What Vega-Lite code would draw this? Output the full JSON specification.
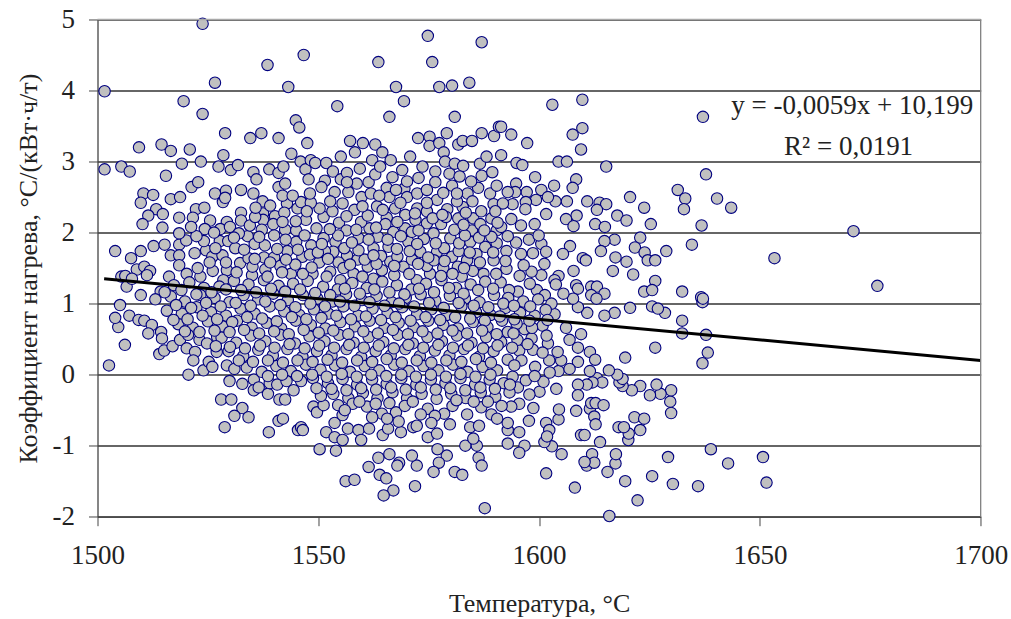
{"$schema":"https://vega.github.io/schema/vega-lite/v6.json","width":883.2,"height":497.2,"autosize":"none","padding":{"left":97.5,"top":19.5,"right":30,"bottom":102},"background":"white",
"config":{"view":{"stroke":null},"font":"Liberation Serif"},
"datasets":{"pts":[
{"t":1523.8,"k":4.94},{"t":1501.6,"k":3.99},{"t":1519.5,"k":3.85},{"t":1523.8,"k":3.67},{"t":1526.6,"k":4.11},{"t":1538.5,"k":4.36},{"t":1546.7,"k":4.5},{"t":1543.2,"k":4.05},{"t":1563.6,"k":4.4},{"t":1574.8,"k":4.77},{"t":1575.8,"k":4.4},{"t":1587,"k":4.68},{"t":1567.6,"k":4.05},{"t":1577.4,"k":4.05},{"t":1580.3,"k":4.07},{"t":1584.2,"k":4.11},{"t":1554.3,"k":3.78},{"t":1569.4,"k":3.85},{"t":1566.1,"k":3.63},{"t":1580.9,"k":3.63},{"t":1544.9,"k":3.58},{"t":1545.7,"k":3.48},{"t":1547.5,"k":3.26},{"t":1528.9,"k":3.4},{"t":1534.6,"k":3.33},{"t":1537.1,"k":3.4},{"t":1541,"k":3.33},{"t":1509.4,"k":3.2},{"t":1514.5,"k":3.24},{"t":1516.6,"k":3.15},{"t":1520.9,"k":3.17},{"t":1528.5,"k":3.09},{"t":1543.9,"k":3.11},{"t":1557.2,"k":3.29},{"t":1560.1,"k":3.26},{"t":1562.9,"k":3.24},{"t":1558.3,"k":3.13},{"t":1564.5,"k":3.13},{"t":1572.6,"k":3.33},{"t":1575.2,"k":3.35},{"t":1575.2,"k":3.22},{"t":1577.4,"k":3.26},{"t":1579.1,"k":3.4},{"t":1581.7,"k":3.24},{"t":1582.7,"k":3.29},{"t":1584.8,"k":3.29},{"t":1587,"k":3.4},{"t":1589.8,"k":3.36},{"t":1590.9,"k":3.49},{"t":1578.4,"k":3.13},
{"t":1501.6,"k":2.89},{"t":1505.4,"k":2.93},{"t":1507.3,"k":2.86},{"t":1515.5,"k":2.8},{"t":1519.1,"k":2.97},{"t":1523.4,"k":3},{"t":1527.4,"k":2.93},{"t":1530.2,"k":2.88},{"t":1531.8,"k":2.95},{"t":1535.3,"k":2.85},{"t":1536,"k":2.75},{"t":1538.9,"k":2.89},{"t":1541,"k":2.84},{"t":1542.1,"k":2.93},{"t":1541,"k":2.64},{"t":1542.5,"k":2.69},{"t":1546,"k":3},{"t":1547.1,"k":2.89},{"t":1547.8,"k":2.75},{"t":1548.3,"k":3.02},{"t":1549.3,"k":2.98},{"t":1551.8,"k":2.98},{"t":1553.3,"k":2.86},{"t":1555.1,"k":3.07},{"t":1551.5,"k":2.73},{"t":1550.7,"k":2.64},{"t":1553.7,"k":2.57},{"t":1555.1,"k":2.75},{"t":1556.5,"k":2.84},{"t":1559.4,"k":2.9},
{"t":1510.4,"k":2.55},{"t":1512.6,"k":2.53},{"t":1509.8,"k":2.42},{"t":1516.6,"k":2.47},{"t":1518.7,"k":2.5},{"t":1521.3,"k":2.64},{"t":1522.8,"k":2.71},{"t":1526.6,"k":2.55},{"t":1529.1,"k":2.59},{"t":1532.5,"k":2.6},{"t":1535.3,"k":2.55},{"t":1537.4,"k":2.44},{"t":1528.4,"k":2.43},{"t":1528.9,"k":2.49},{"t":1522.3,"k":2.33},{"t":1524.2,"k":2.35},{"t":1513.3,"k":2.33},{"t":1514.8,"k":2.26},{"t":1511.5,"k":2.24},{"t":1510.2,"k":2.12},{"t":1518.5,"k":2.21},{"t":1521.6,"k":2.21},{"t":1525.5,"k":2.17},{"t":1532.5,"k":2.28},{"t":1532.5,"k":2.17},{"t":1529.3,"k":2.15},{"t":1514.7,"k":2.07},{"t":1524.3,"k":2.05},{"t":1527.8,"k":2.05},{"t":1530,"k":2.08},{"t":1504,"k":1.74},{"t":1509.8,"k":1.74},{"t":1512.7,"k":1.81},{"t":1515.2,"k":1.83},{"t":1518.5,"k":1.83},{"t":1520.1,"k":1.89},{"t":1518.5,"k":1.99},{"t":1507.6,"k":1.64},{"t":1508.9,"k":1.48},{"t":1510.6,"k":1.52},{"t":1511.9,"k":1.46},{"t":1505.4,"k":1.38},{"t":1506.3,"k":1.39},{"t":1506.6,"k":1.24},{"t":1507.8,"k":1.35},{"t":1511.2,"k":1.4},{"t":1509.8,"k":1.12},{"t":1514.3,"k":1.17},{"t":1516.2,"k":1.38},{"t":1516.6,"k":1.68},{"t":1518.5,"k":1.68},{"t":1518.5,"k":1.54},{"t":1522,"k":1.71},{"t":1524.6,"k":1.75},{"t":1524.1,"k":1.88},{"t":1527.7,"k":1.88},{"t":1529.6,"k":1.88},{"t":1531.2,"k":1.78},{"t":1526,"k":1.66},{"t":1528.3,"k":1.68},{"t":1520.2,"k":1.42},{"t":1523.3,"k":1.38},{"t":1529.3,"k":1.47},{"t":1532.3,"k":1.57},{"t":1534.2,"k":1.64},{"t":1534,"k":1.95},{"t":1532,"k":1.99},{"t":1528.5,"k":1.33},{"t":1535,"k":1.4},{"t":1537.7,"k":1.65},{"t":1540,"k":1.65},{"t":1540,"k":1.96},{"t":1537.5,"k":2.27},{"t":1537.5,"k":2.18},{"t":1540.2,"k":2.23},{"t":1542.9,"k":2.41},{"t":1542.5,"k":2.04},{"t":1545,"k":2.03},{"t":1545,"k":1.87},{"t":1543.8,"k":1.42},{"t":1548.7,"k":1.42},{"t":1548.4,"k":1.82},{"t":1551.2,"k":1.92},{"t":1551.2,"k":2.22},{"t":1550.3,"k":2.34},{"t":1545.3,"k":2.34},{"t":1546.1,"k":2.43},{"t":1548.3,"k":2.42},{"t":1547.2,"k":2.18},{"t":1554.7,"k":2.14},{"t":1555.5,"k":2.41},{"t":1558.2,"k":2.32},{"t":1556.8,"k":2.57},{"t":1558.7,"k":2.69},{"t":1556.5,"k":2.71},{"t":1559.8,"k":2.5},{"t":1561.9,"k":2.55},{"t":1561.4,"k":2.71},{"t":1563.3,"k":2.37},{"t":1565.5,"k":2.63},{"t":1566.1,"k":2.5},{"t":1565.5,"k":2.21},{"t":1569.5,"k":2.62},{"t":1570.1,"k":2.5},{"t":1569.7,"k":2.25},{"t":1572.7,"k":2.77},{"t":1573.6,"k":2.93},{"t":1576.5,"k":2.86},{"t":1576.5,"k":2.71},{"t":1579.7,"k":2.83},{"t":1580.3,"k":2.66},{"t":1578.7,"k":3},{"t":1580.9,"k":2.97},{"t":1582.8,"k":2.94},{"t":1582,"k":2.79},{"t":1583.8,"k":2.55},{"t":1584.9,"k":2.44},{"t":1587,"k":2.8},{"t":1586.6,"k":2.97},{"t":1588.1,"k":3.07},{"t":1588.9,"k":2.55},{"t":1589.7,"k":2.4},{"t":1579.2,"k":2.33},{"t":1576.9,"k":2.46},{"t":1572.4,"k":2.55},{"t":1572.4,"k":2.34},{"t":1570.8,"k":3.07},{"t":1566.4,"k":3.02},{"t":1562.2,"k":3.02},{"t":1581.7,"k":2.2},{"t":1585.1,"k":2.2},{"t":1589.2,"k":2.2},{"t":1574.6,"k":2.13},{"t":1572,"k":2.18},{"t":1569.7,"k":2.06},{"t":1567,"k":2.01},{"t":1561.6,"k":2.06},{"t":1559.7,"k":2.15},{"t":1559.1,"k":1.92},{"t":1553.9,"k":1.87},{"t":1556.5,"k":1.68},{"t":1553.4,"k":1.73},{"t":1562.5,"k":1.78},{"t":1565.9,"k":1.8},{"t":1570.4,"k":1.87},{"t":1573.1,"k":1.73},{"t":1576.1,"k":1.99},{"t":1576.9,"k":1.73},{"t":1579.9,"k":1.92},{"t":1580.3,"k":1.66},{"t":1584.4,"k":1.87},{"t":1584.8,"k":2.03},{"t":1587.8,"k":1.8},{"t":1590.4,"k":2.03},{"t":1590.4,"k":1.85},{"t":1589.7,"k":1.61},{"t":1587.4,"k":1.42},{"t":1583.7,"k":1.61},{"t":1582.5,"k":1.38},{"t":1575.3,"k":1.42},{"t":1572.3,"k":1.33},{"t":1569.3,"k":1.52},{"t":1566.3,"k":1.59},{"t":1562.5,"k":1.35},{"t":1558,"k":1.42},{"t":1555,"k":1.33},{"t":1552.7,"k":1.45},
{"t":1534.5,"k":2.1},{"t":1537.2,"k":2.04},{"t":1535.6,"k":1.84},{"t":1542.3,"k":2.28},{"t":1543,"k":1.74},{"t":1546.4,"k":1.66},{"t":1550.2,"k":1.58},{"t":1541.4,"k":1.53},{"t":1538,"k":1.48},{"t":1544.8,"k":1.55},{"t":1537.9,"k":1.82},{"t":1551.5,"k":1.74},{"t":1554.6,"k":1.58},{"t":1558.9,"k":1.62},{"t":1561.2,"k":1.52},{"t":1564.2,"k":1.67},{"t":1567.9,"k":1.66},{"t":1571.2,"k":1.62},{"t":1574.6,"k":1.53},{"t":1578.3,"k":1.5},{"t":1581.6,"k":1.52},{"t":1585.8,"k":1.7},{"t":1553.2,"k":2.3},{"t":1556.4,"k":2.03},{"t":1563.5,"k":1.94},{"t":1565.2,"k":2.12},{"t":1567.4,"k":2.34},{"t":1571.2,"k":2.01},{"t":1573.9,"k":1.91},{"t":1577.8,"k":2.12},{"t":1580.8,"k":2.04},{"t":1582.7,"k":2.36},{"t":1586.7,"k":2.12},{"t":1574.6,"k":2.3},{"t":1561.2,"k":2.24},{"t":1549.6,"k":2.06},{"t":1539.8,"k":2.12},{"t":1526.4,"k":2},
{"t":1502.6,"k":0.13},{"t":1506.2,"k":0.42},{"t":1504.7,"k":0.67},{"t":1504,"k":0.8},{"t":1505.1,"k":0.98},{"t":1507.2,"k":0.83},{"t":1509.3,"k":0.77},{"t":1510.6,"k":0.76},{"t":1512.3,"k":0.7},{"t":1511.5,"k":0.58},{"t":1514.4,"k":0.6},{"t":1514.6,"k":0.51},{"t":1514,"k":0.29},{"t":1515.1,"k":0.34},{"t":1517,"k":0.4},{"t":1518.7,"k":0.49},{"t":1520.2,"k":0.37},{"t":1522.1,"k":0.32},{"t":1521.7,"k":0.2},{"t":1520.6,"k":0},{"t":1524,"k":0.06},{"t":1525.2,"k":0.18},{"t":1526,"k":0.11},{"t":1527.1,"k":0.53},{"t":1523.1,"k":0.49},{"t":1529.3,"k":0.13},{"t":1531,"k":0.08},{"t":1529.9,"k":-0.09},{"t":1532.8,"k":-0.13},{"t":1535.4,"k":-0.07},{"t":1535.4,"k":-0.22},{"t":1536.5,"k":-0.18},{"t":1528,"k":-0.35},{"t":1530.3,"k":-0.35},{"t":1532.8,"k":-0.47},{"t":1531,"k":-0.58},{"t":1534.2,"k":-0.6},{"t":1528.8,"k":-0.74},{"t":1538.8,"k":-0.81},{"t":1541,"k":-0.65},{"t":1542,"k":-0.62},{"t":1545.4,"k":-0.78},{"t":1546.1,"k":-0.74},{"t":1546.5,"k":-0.78},{"t":1541.2,"k":-0.35},{"t":1542.5,"k":-0.35},{"t":1538.6,"k":-0.27},{"t":1548.9,"k":-0.45},{"t":1549.7,"k":-0.53},{"t":1551.2,"k":-0.43},{"t":1550.6,"k":-0.3},{"t":1544.4,"k":-0.22},{"t":1546.1,"k":-0.09},{"t":1539,"k":-0.12},{"t":1540.7,"k":-0.14},{"t":1550.3,"k":-1.05},{"t":1554,"k":-1.07},{"t":1551.8,"k":-0.81},{"t":1553.7,"k":-0.68},{"t":1553.7,"k":-0.88},{"t":1555.5,"k":-0.92},{"t":1555.5,"k":-0.57},{"t":1556.7,"k":-0.76},{"t":1559.1,"k":-0.78},{"t":1559.7,"k":-0.92},{"t":1561.5,"k":-0.76},{"t":1564.6,"k":-0.85},{"t":1565.8,"k":-0.76},{"t":1568.7,"k":-0.81},{"t":1571.5,"k":-0.74},{"t":1574.8,"k":-0.88},{"t":1576.9,"k":-0.83},{"t":1572.3,"k":-0.72},{"t":1579.8,"k":-0.7},{"t":1583.3,"k":-1},{"t":1585.9,"k":-1},{"t":1585.1,"k":-0.9},{"t":1584.4,"k":-0.74},{"t":1586.4,"k":-0.72},{"t":1586.3,"k":-1.17},{"t":1587,"k":-1.28},{"t":1579.1,"k":-1.14},{"t":1577,"k":-1.05},{"t":1577.3,"k":-1.24},{"t":1576.1,"k":-1.37},{"t":1580.9,"k":-1.37},{"t":1582.6,"k":-1.41},{"t":1572.3,"k":-1.28},{"t":1571.2,"k":-1.14},{"t":1568.3,"k":-1.24},{"t":1567.9,"k":-1.28},{"t":1566.1,"k":-1.12},{"t":1563.6,"k":-1.17},{"t":1561.4,"k":-1.3},{"t":1563.9,"k":-1.41},{"t":1565.4,"k":-1.46},{"t":1556.2,"k":-1.5},{"t":1558.2,"k":-1.48},{"t":1567,"k":-1.63},{"t":1564.8,"k":-1.7},{"t":1571.9,"k":-1.57},{"t":1587.7,"k":-1.88},
{"t":1615.9,"k":-1.99},{"t":1622.3,"k":-1.77},{"t":1608.1,"k":-1.59},{"t":1601.6,"k":-1.39},{"t":1619.5,"k":-1.5},{"t":1615.5,"k":-1.37},{"t":1625.6,"k":-1.43},{"t":1630.3,"k":-1.54},{"t":1636,"k":-1.57},{"t":1651.5,"k":-1.52},{"t":1650.7,"k":-1.16},{"t":1642.8,"k":-1.25},{"t":1638.9,"k":-1.05},{"t":1629.2,"k":-1.16},{"t":1617.3,"k":-1.25},{"t":1617.4,"k":-1.12},{"t":1612,"k":-1.12},{"t":1610.8,"k":-1.28},{"t":1612.5,"k":-1.24},{"t":1610.3,"k":-1.23},{"t":1605.1,"k":-1.12},{"t":1602.9,"k":-1.01},{"t":1601.2,"k":-0.95},{"t":1596.7,"k":-1},{"t":1595.5,"k":-1.1},{"t":1592.9,"k":-0.97},{"t":1595.5,"k":-0.81},{"t":1592.9,"k":-0.78},{"t":1592.9,"k":-0.68},{"t":1597.7,"k":-0.65},{"t":1601.6,"k":-0.68},{"t":1602.3,"k":-0.78},{"t":1601.8,"k":-0.87},{"t":1604.4,"k":-0.63},{"t":1604.5,"k":-0.49},{"t":1598.7,"k":-0.47},{"t":1595.5,"k":-0.41},{"t":1593.7,"k":-0.45},{"t":1608.4,"k":-0.51},{"t":1611.5,"k":-0.48},{"t":1612.5,"k":-0.59},{"t":1612.8,"k":-0.7},{"t":1611.8,"k":-0.4},{"t":1612.8,"k":-0.4},{"t":1614.6,"k":-0.43},{"t":1609.5,"k":-0.85},{"t":1610.3,"k":-0.85},{"t":1613.8,"k":-0.95},{"t":1620.2,"k":-0.92},{"t":1620.3,"k":-0.83},{"t":1618,"k":-0.74},{"t":1619.2,"k":-0.74},{"t":1622.9,"k":-0.78},{"t":1621.6,"k":-0.6},{"t":1623.8,"k":-0.62},{"t":1629.9,"k":-0.54},{"t":1629.7,"k":-0.38},{"t":1629.9,"k":-0.22},{"t":1627.5,"k":-0.27},{"t":1625.1,"k":-0.29},{"t":1626.6,"k":-0.14},{"t":1622.9,"k":-0.16},{"t":1621,"k":-0.22},{"t":1618.9,"k":-0.16},{"t":1618.2,"k":-0.11},{"t":1618.9,"k":-0.06},{"t":1617.7,"k":0},{"t":1615.8,"k":0.06},{"t":1613.1,"k":-0.05},{"t":1614.3,"k":-0.11},{"t":1612.1,"k":-0.11},{"t":1610.8,"k":-0.14},{"t":1608.8,"k":-0.14},{"t":1608.8,"k":-0.29},{"t":1603.9,"k":-0.2},{"t":1600.1,"k":-0.24},{"t":1595.2,"k":-0.18},{"t":1594,"k":-0.03},{"t":1597,"k":-0.08},{"t":1601,"k":-0.1},{"t":1637,"k":0.16},{"t":1638.2,"k":0.31},{"t":1626.3,"k":0.38},{"t":1619.5,"k":0.24},{"t":1637.8,"k":0.56},{"t":1632.4,"k":0.58},{"t":1632.4,"k":0.76},{"t":1628.5,"k":0.87},{"t":1617.1,"k":0.87},{"t":1614.8,"k":0.83},{"t":1620.6,"k":0.94},{"t":1625.6,"k":0.96},{"t":1626.9,"k":0.93},{"t":1610.9,"k":0.87},{"t":1608.8,"k":0.95},{"t":1603.5,"k":0.85},{"t":1600.8,"k":0.69},{"t":1606.1,"k":0.66},{"t":1609.5,"k":0.57},{"t":1606.9,"k":0.49},{"t":1608.8,"k":0.38},{"t":1611.5,"k":0.32},{"t":1612.7,"k":0.21},{"t":1611.5,"k":0.05},{"t":1608.8,"k":0.18},{"t":1604.4,"k":0.05},{"t":1606.9,"k":0.08},{"t":1605,"k":0.2},{"t":1602.3,"k":0.2},{"t":1602,"k":0.44},{"t":1598.6,"k":0.35},{"t":1600.8,"k":0.31},{"t":1598.3,"k":0.51},{"t":1596.7,"k":0.64},{"t":1592.9,"k":0.6},{"t":1595.5,"k":0.34},{"t":1592.9,"k":0.21},{"t":1596,"k":0.2},{"t":1599.1,"k":0.11},{"t":1637,"k":1.02},
{"t":1603,"k":3.8},{"t":1609.8,"k":3.87},{"t":1637.1,"k":3.63},{"t":1609.8,"k":3.47},{"t":1607.6,"k":3.38},{"t":1609.5,"k":3.17},{"t":1597.3,"k":3.26},{"t":1593.7,"k":3.38},{"t":1591.4,"k":3.49},{"t":1591.4,"k":3.09},{"t":1594.9,"k":2.98},{"t":1596.2,"k":2.95},{"t":1604.4,"k":3},{"t":1606.3,"k":3},{"t":1615.2,"k":2.93},{"t":1637.8,"k":2.82},{"t":1599.1,"k":2.78},{"t":1608.4,"k":2.75},{"t":1607.6,"k":2.63},{"t":1603.4,"k":2.66},{"t":1594.8,"k":2.69},{"t":1600.5,"k":2.6},{"t":1597.2,"k":2.57},{"t":1594.6,"k":2.57},{"t":1592.9,"k":2.57},{"t":1631.4,"k":2.6},{"t":1633.1,"k":2.48},{"t":1632.8,"k":2.33},{"t":1640.3,"k":2.48},{"t":1643.5,"k":2.35},{"t":1620.6,"k":2.5},{"t":1623.8,"k":2.35},{"t":1625.3,"k":2.12},{"t":1636.8,"k":2.1},{"t":1610.9,"k":2.44},{"t":1613.7,"k":2.42},{"t":1615.2,"k":2.4},{"t":1613.1,"k":2.32},{"t":1606.3,"k":2.44},{"t":1603.7,"k":2.44},{"t":1602,"k":2.5},{"t":1599.3,"k":2.46},{"t":1597,"k":2.43},{"t":1596.9,"k":2.33},{"t":1594,"k":2.4},{"t":1591.8,"k":2.41},{"t":1601.6,"k":2.26},{"t":1617.7,"k":2.24},{"t":1619.8,"k":2.17},{"t":1608.5,"k":2.24},{"t":1606.1,"k":2.19},{"t":1607.8,"k":2.09},{"t":1612.7,"k":2.12},{"t":1614.9,"k":2.08},{"t":1593.7,"k":2.19},{"t":1595.9,"k":2.1},{"t":1599,"k":2.12},{"t":1591.4,"k":2.08},{"t":1671.2,"k":2.02},{"t":1617.1,"k":1.9},{"t":1614.8,"k":1.88},{"t":1622.9,"k":1.93},{"t":1621.7,"k":1.79},{"t":1623.9,"k":1.72},{"t":1624.6,"k":1.61},{"t":1626.3,"k":1.61},{"t":1628.8,"k":1.74},{"t":1634.6,"k":1.83},{"t":1614,"k":1.74},{"t":1617.3,"k":1.65},{"t":1619.8,"k":1.59},{"t":1616.7,"k":1.46},{"t":1621.3,"k":1.41},{"t":1626.3,"k":1.32},{"t":1623.8,"k":1.17},{"t":1625.6,"k":1.19},{"t":1632.4,"k":1.17},{"t":1636.7,"k":1.09},{"t":1637.1,"k":1.07},{"t":1653.3,"k":1.64},{"t":1676.6,"k":1.25},{"t":1607,"k":1.81},{"t":1605.4,"k":1.7},{"t":1609.9,"k":1.64},{"t":1610.6,"k":1.61},{"t":1607.8,"k":1.46},{"t":1604.4,"k":1.39},{"t":1603.5,"k":1.33},{"t":1603.8,"k":1.27},{"t":1608.4,"k":1.26},{"t":1608.8,"k":1.21},{"t":1611.8,"k":1.24},{"t":1613.1,"k":1.24},{"t":1614.8,"k":1.14},{"t":1607.7,"k":1.07},{"t":1611.8,"k":1.12},{"t":1613,"k":1.07},{"t":1599.5,"k":1.19},{"t":1595.2,"k":1.17},{"t":1593.2,"k":1.19},{"t":1600.5,"k":1.4},{"t":1598.3,"k":1.45},{"t":1601.2,"k":1.56},{"t":1596.5,"k":1.54},{"t":1592.6,"k":1.49},{"t":1595.6,"k":1.39},{"t":1598.6,"k":1.71},{"t":1595.9,"k":1.7},{"t":1592.6,"k":1.74},{"t":1594.8,"k":1.86},{"t":1597.7,"k":1.9},{"t":1600.5,"k":1.84},{"t":1601.6,"k":1.73},{"t":1599.9,"k":1.96},
{"t":1517.3,"k":1.26},{"t":1520.8,"k":1.3},{"t":1524.1,"k":1.22},{"t":1527.6,"k":1.24},{"t":1530.9,"k":1.32},{"t":1534.2,"k":1.27},{"t":1537.7,"k":1.33},{"t":1541,"k":1.25},{"t":1544.3,"k":1.28},{"t":1547.6,"k":1.32},{"t":1551.1,"k":1.24},{"t":1554.4,"k":1.2},{"t":1557.7,"k":1.29},{"t":1561,"k":1.22},{"t":1564.5,"k":1.31},{"t":1567.8,"k":1.26},{"t":1571.1,"k":1.2},{"t":1574.4,"k":1.28},{"t":1577.9,"k":1.33},{"t":1581.2,"k":1.22},{"t":1584.5,"k":1.27},{"t":1587.8,"k":1.31},{"t":1591.3,"k":1.3},{"t":1597.9,"k":1.28},{"t":1601.3,"k":1.12},
{"t":1513.1,"k":1.06},{"t":1516.6,"k":1.1},{"t":1519.8,"k":1.03},{"t":1523.3,"k":1.12},{"t":1526.5,"k":1.08},{"t":1529.9,"k":1.02},{"t":1533.1,"k":1.12},{"t":1536.4,"k":1.06},{"t":1539.8,"k":1.14},{"t":1543.1,"k":1.05},{"t":1546.5,"k":1.12},{"t":1549.8,"k":1.07},{"t":1553.2,"k":1.03},{"t":1556.3,"k":1.13},{"t":1559.9,"k":1.05},{"t":1563.2,"k":1.11},{"t":1566.6,"k":1.02},{"t":1569.8,"k":1.08},{"t":1573.2,"k":1.13},{"t":1576.5,"k":1.04},{"t":1579.8,"k":1.11},{"t":1583.2,"k":1.07},{"t":1586.5,"k":1.02},{"t":1589.8,"k":1.12},{"t":1596.4,"k":1.03},{"t":1602.8,"k":1},{"t":1605.5,"k":1.14},
{"t":1515.7,"k":0.9},{"t":1519.1,"k":0.86},{"t":1522.4,"k":0.95},{"t":1525.7,"k":0.88},{"t":1529.1,"k":0.83},{"t":1532.4,"k":0.93},{"t":1535.6,"k":0.86},{"t":1539,"k":0.96},{"t":1542.3,"k":0.89},{"t":1545.7,"k":0.84},{"t":1549,"k":0.92},{"t":1552.3,"k":0.86},{"t":1555.7,"k":0.96},{"t":1559,"k":0.83},{"t":1562.3,"k":0.93},{"t":1565.7,"k":0.87},{"t":1569,"k":0.95},{"t":1572.4,"k":0.85},{"t":1575.6,"k":0.92},{"t":1579.1,"k":0.84},{"t":1582.4,"k":0.96},{"t":1585.7,"k":0.88},{"t":1589,"k":0.84},{"t":1592.4,"k":0.94},{"t":1595.7,"k":0.87},{"t":1599,"k":0.83},
{"t":1518.3,"k":0.71},{"t":1521.6,"k":0.66},{"t":1525,"k":0.75},{"t":1528.3,"k":0.68},{"t":1531.6,"k":0.76},{"t":1534.9,"k":0.66},{"t":1538.3,"k":0.73},{"t":1541.6,"k":0.65},{"t":1544.9,"k":0.76},{"t":1548.3,"k":0.7},{"t":1551.6,"k":0.65},{"t":1555,"k":0.74},{"t":1558.3,"k":0.68},{"t":1561.6,"k":0.76},{"t":1565,"k":0.66},{"t":1568.2,"k":0.73},{"t":1571.6,"k":0.67},{"t":1574.9,"k":0.76},{"t":1578.3,"k":0.7},{"t":1581.6,"k":0.65},{"t":1585,"k":0.74},{"t":1588.3,"k":0.67},{"t":1591.6,"k":0.76},{"t":1594.9,"k":0.72},{"t":1598.4,"k":0.66},
{"t":1520.5,"k":0.56},{"t":1524.8,"k":0.44},{"t":1528.1,"k":0.52},{"t":1531.4,"k":0.45},{"t":1534.7,"k":0.55},{"t":1538,"k":0.47},{"t":1541.4,"k":0.56},{"t":1544.7,"k":0.44},{"t":1548,"k":0.54},{"t":1551.4,"k":0.47},{"t":1554.7,"k":0.56},{"t":1558,"k":0.45},{"t":1561.4,"k":0.53},{"t":1564.7,"k":0.46},{"t":1568,"k":0.56},{"t":1571.4,"k":0.44},{"t":1574.7,"k":0.53},{"t":1578,"k":0.47},{"t":1581.4,"k":0.55},{"t":1584.7,"k":0.45},{"t":1588,"k":0.53},{"t":1591.4,"k":0.46},{"t":1595.1,"k":0.49},
{"t":1529.7,"k":0.33},{"t":1533,"k":0.26},{"t":1536.4,"k":0.35},{"t":1539.7,"k":0.27},{"t":1543,"k":0.36},{"t":1546.4,"k":0.25},{"t":1549.7,"k":0.33},{"t":1553,"k":0.27},{"t":1556.4,"k":0.36},{"t":1559.7,"k":0.25},{"t":1563,"k":0.33},{"t":1566.4,"k":0.27},{"t":1569.7,"k":0.36},{"t":1573,"k":0.26},{"t":1576.4,"k":0.34},{"t":1579.7,"k":0.27},{"t":1583,"k":0.36},{"t":1586.4,"k":0.25},{"t":1589.7,"k":0.33},{"t":1527,"k":0.32},
{"t":1533.8,"k":0.1},{"t":1537.2,"k":0.04},{"t":1540.5,"k":0.12},{"t":1543.8,"k":0.05},{"t":1547.2,"k":0.14},{"t":1550.5,"k":0.07},{"t":1553.8,"k":0.13},{"t":1557.2,"k":0.04},{"t":1560.5,"k":0.12},{"t":1563.8,"k":0.06},{"t":1567.2,"k":0.14},{"t":1570.5,"k":0.05},{"t":1573.8,"k":0.12},{"t":1577.2,"k":0.06},{"t":1580.5,"k":0.14},{"t":1583.8,"k":0.04},{"t":1587.2,"k":0.11},{"t":1590.5,"k":0.06},
{"t":1542.8,"k":-0.09},{"t":1548.8,"k":-0.05},{"t":1552.2,"k":-0.12},{"t":1555.5,"k":-0.06},{"t":1558.8,"k":-0.14},{"t":1562.2,"k":-0.07},{"t":1565.5,"k":-0.13},{"t":1568.8,"k":-0.05},{"t":1572.2,"k":-0.14},{"t":1575.5,"k":-0.07},{"t":1578.8,"k":-0.12},{"t":1582.2,"k":-0.05},{"t":1585.5,"k":-0.14},{"t":1588.8,"k":-0.07},{"t":1592,"k":-0.12},
{"t":1553.4,"k":-0.27},{"t":1556.8,"k":-0.33},{"t":1560.1,"k":-0.26},{"t":1563.4,"k":-0.33},{"t":1566.8,"k":-0.25},{"t":1570.1,"k":-0.33},{"t":1573.4,"k":-0.27},{"t":1576.8,"k":-0.34},{"t":1580.1,"k":-0.27},{"t":1583.4,"k":-0.33},{"t":1586.8,"k":-0.25},{"t":1590.1,"k":-0.31},{"t":1593.3,"k":-0.25},{"t":1597.8,"k":-0.28},
{"t":1554.5,"k":-0.43},{"t":1557.8,"k":-0.41},{"t":1561,"k":-0.45},{"t":1564.4,"k":-0.55},{"t":1567.6,"k":-0.53},{"t":1569.6,"k":-0.44},{"t":1574.8,"k":-0.48},{"t":1578.5,"k":-0.55},{"t":1580.4,"k":-0.44},{"t":1583.7,"k":-0.56},{"t":1586.9,"k":-0.46},{"t":1589.2,"k":-0.56},{"t":1591.5,"k":-0.44},{"t":1562.2,"k":-0.6},
{"t":1515.2,"k":1.16},{"t":1519,"k":1.19},{"t":1522.4,"k":1.13},{"t":1525.8,"k":1.16},{"t":1529.1,"k":1.2},{"t":1532.5,"k":1.19},{"t":1535.9,"k":1.16},{"t":1539.3,"k":1.21},{"t":1542.5,"k":1.17},{"t":1545.9,"k":1.2},{"t":1549.3,"k":1.15},{"t":1552.7,"k":1.12},{"t":1556,"k":1.21},{"t":1559.4,"k":1.14},{"t":1562.7,"k":1.2},{"t":1566.1,"k":1.16},{"t":1569.5,"k":1.13},{"t":1572.8,"k":1.21},{"t":1576.2,"k":1.16},{"t":1579.6,"k":1.22},{"t":1582.9,"k":1.14},{"t":1586.2,"k":1.19},{"t":1589.6,"k":1.21},{"t":1593,"k":1.08},{"t":1599.8,"k":1.06},
{"t":1517.8,"k":0.98},{"t":1521.2,"k":0.94},{"t":1524.6,"k":1.01},{"t":1527.9,"k":0.96},{"t":1531.3,"k":1.01},{"t":1534.7,"k":0.97},{"t":1538,"k":1.03},{"t":1541.4,"k":0.98},{"t":1544.8,"k":0.95},{"t":1548.2,"k":1},{"t":1551.5,"k":0.96},{"t":1554.9,"k":1.03},{"t":1558.2,"k":0.97},{"t":1561.6,"k":1.02},{"t":1565,"k":0.97},{"t":1568.3,"k":1},{"t":1571.7,"k":0.96},{"t":1575.1,"k":1.01},{"t":1578.4,"k":0.94},{"t":1581.8,"k":1.01},{"t":1585.2,"k":0.97},{"t":1588.5,"k":0.95},{"t":1591.9,"k":1},{"t":1594.3,"k":0.97},{"t":1598,"k":0.96},{"t":1601.5,"k":0.91},
{"t":1517.2,"k":0.77},{"t":1520.4,"k":0.78},{"t":1523.8,"k":0.83},{"t":1527.1,"k":0.78},{"t":1530.5,"k":0.74},{"t":1533.9,"k":0.81},{"t":1537.3,"k":0.79},{"t":1540.6,"k":0.75},{"t":1544,"k":0.81},{"t":1547.3,"k":0.78},{"t":1550.7,"k":0.8},{"t":1554.1,"k":0.83},{"t":1557.4,"k":0.78},{"t":1560.8,"k":0.82},{"t":1564.2,"k":0.77},{"t":1567.5,"k":0.81},{"t":1570.9,"k":0.76},{"t":1574.3,"k":0.81},{"t":1577.6,"k":0.77},{"t":1581,"k":0.81},{"t":1584.4,"k":0.79},{"t":1587.7,"k":0.76},{"t":1591.1,"k":0.82},{"t":1594.4,"k":0.78},{"t":1597.8,"k":0.76},{"t":1601.9,"k":0.77},
{"t":1519.8,"k":0.61},{"t":1523.1,"k":0.6},{"t":1526.5,"k":0.62},{"t":1529.9,"k":0.6},{"t":1533.2,"k":0.63},{"t":1536.6,"k":0.58},{"t":1540,"k":0.61},{"t":1543.3,"k":0.57},{"t":1546.7,"k":0.63},{"t":1550.1,"k":0.59},{"t":1553.4,"k":0.62},{"t":1556.8,"k":0.57},{"t":1560.2,"k":0.61},{"t":1563.5,"k":0.58},{"t":1566.9,"k":0.63},{"t":1570.3,"k":0.57},{"t":1573.6,"k":0.61},{"t":1577,"k":0.58},{"t":1580.4,"k":0.62},{"t":1583.7,"k":0.58},{"t":1587.1,"k":0.62},{"t":1590.4,"k":0.57},{"t":1594.2,"k":0.58},{"t":1601.7,"k":0.55},
{"t":1526.8,"k":0.4},{"t":1530,"k":0.39},{"t":1533.4,"k":0.37},{"t":1536.8,"k":0.41},{"t":1540.1,"k":0.38},{"t":1543.5,"k":0.43},{"t":1546.9,"k":0.37},{"t":1550.2,"k":0.41},{"t":1553.6,"k":0.38},{"t":1557,"k":0.42},{"t":1560.3,"k":0.38},{"t":1563.7,"k":0.41},{"t":1567.1,"k":0.37},{"t":1570.4,"k":0.42},{"t":1573.8,"k":0.38},{"t":1577.2,"k":0.42},{"t":1580.5,"k":0.38},{"t":1583.9,"k":0.41},{"t":1587.3,"k":0.37},{"t":1590.6,"k":0.41},{"t":1593.9,"k":0.38},{"t":1597.4,"k":0.43},{"t":1604.2,"k":0.32},
{"t":1532,"k":0.2},{"t":1535.2,"k":0.18},{"t":1538.6,"k":0.2},{"t":1542,"k":0.17},{"t":1545.3,"k":0.2},{"t":1548.7,"k":0.18},{"t":1552.1,"k":0.21},{"t":1555.4,"k":0.17},{"t":1558.8,"k":0.2},{"t":1562.2,"k":0.18},{"t":1565.5,"k":0.22},{"t":1568.9,"k":0.17},{"t":1572.3,"k":0.2},{"t":1575.6,"k":0.17},{"t":1579,"k":0.2},{"t":1582.4,"k":0.18},{"t":1585.7,"k":0.22},{"t":1589.1,"k":0.17},{"t":1594.4,"k":0.13},{"t":1602.4,"k":0.03},
{"t":1538.6,"k":-0.02},{"t":1541.8,"k":0},{"t":1545.2,"k":-0.02},{"t":1548.6,"k":0},{"t":1551.9,"k":-0.03},{"t":1555.3,"k":0.01},{"t":1558.7,"k":-0.03},{"t":1562,"k":0},{"t":1565.4,"k":-0.02},{"t":1568.8,"k":0},{"t":1572.1,"k":-0.03},{"t":1575.5,"k":0},{"t":1578.9,"k":-0.03},{"t":1582.2,"k":0.01},{"t":1585.6,"k":-0.03},{"t":1589,"k":0},{"t":1599,"k":-0.02},
{"t":1549.6,"k":-0.19},{"t":1553,"k":-0.2},{"t":1556.4,"k":-0.22},{"t":1559.7,"k":-0.19},{"t":1563.1,"k":-0.21},{"t":1566.5,"k":-0.18},{"t":1569.8,"k":-0.21},{"t":1573.2,"k":-0.18},{"t":1576.6,"k":-0.21},{"t":1579.9,"k":-0.19},{"t":1583.3,"k":-0.22},{"t":1586.7,"k":-0.18},{"t":1590,"k":-0.2},{"t":1593.4,"k":-0.14},
{"t":1556,"k":-0.5},{"t":1559.3,"k":-0.38},{"t":1563,"k":-0.41},{"t":1566.1,"k":-0.4},{"t":1571.4,"k":-0.38},{"t":1573.2,"k":-0.56},{"t":1576.4,"k":-0.58},{"t":1581.3,"k":-0.36},{"t":1585.2,"k":-0.38},{"t":1588.4,"k":-0.38},{"t":1568.2,"k":-0.66},{"t":1565.6,"k":-0.62},{"t":1575.6,"k":-0.68},{"t":1590.5,"k":-0.62},
{"t":1522.7,"k":1.5},{"t":1526.1,"k":1.46},{"t":1531.5,"k":1.44},{"t":1535.1,"k":1.52},{"t":1538.5,"k":1.38},{"t":1541.8,"k":1.44},{"t":1546.5,"k":1.42},{"t":1548.5,"k":1.51},{"t":1551.9,"k":1.38},{"t":1555.7,"k":1.5},{"t":1560,"k":1.38},{"t":1564.4,"k":1.47},{"t":1567.2,"k":1.4},{"t":1570.6,"k":1.42},{"t":1577.8,"k":1.39},{"t":1580.4,"k":1.42},{"t":1585,"k":1.46},{"t":1590.3,"k":1.42},
{"t":1525.4,"k":1.58},{"t":1529.1,"k":1.58},{"t":1535.6,"k":1.63},{"t":1539.1,"k":1.58},{"t":1542.7,"k":1.62},{"t":1548.1,"k":1.69},{"t":1552.2,"k":1.63},{"t":1557.2,"k":1.55},{"t":1560.5,"k":1.62},{"t":1563.2,"k":1.56},{"t":1567.2,"k":1.53},{"t":1572.6,"k":1.56},{"t":1576.2,"k":1.61},{"t":1578.6,"k":1.6},{"t":1583,"k":1.5},{"t":1586.6,"k":1.58},{"t":1592.4,"k":1.6},
{"t":1526.7,"k":1.78},{"t":1533.2,"k":1.76},{"t":1540.7,"k":1.77},{"t":1545.4,"k":1.76},{"t":1549.9,"k":1.72},{"t":1555.9,"k":1.78},{"t":1559.1,"k":1.75},{"t":1562.5,"k":1.68},{"t":1567.8,"k":1.77},{"t":1570.7,"k":1.74},{"t":1574.9,"k":1.65},{"t":1578.5,"k":1.78},{"t":1581.8,"k":1.74},{"t":1584.3,"k":1.72},{"t":1589.6,"k":1.72},
{"t":1522.4,"k":1.95},{"t":1530.9,"k":1.93},{"t":1536.6,"k":1.94},{"t":1542.6,"k":1.9},{"t":1546.9,"k":1.96},{"t":1550.8,"k":1.84},{"t":1554.5,"k":1.96},{"t":1557.6,"k":1.86},{"t":1561.4,"k":1.9},{"t":1565.7,"k":1.9},{"t":1568.7,"k":1.95},{"t":1572.4,"k":1.84},{"t":1576.6,"k":1.85},{"t":1581.9,"k":1.85},{"t":1583.2,"k":1.96},{"t":1586.4,"k":1.93},{"t":1589.2,"k":1.94},{"t":1592.9,"k":1.95},
{"t":1521.2,"k":2.08},{"t":1535.7,"k":2.22},{"t":1541.9,"k":2.15},{"t":1544.9,"k":2.16},{"t":1552.6,"k":2.05},{"t":1558.6,"k":2.04},{"t":1563.1,"k":2.07},{"t":1567.9,"k":2.15},{"t":1572.7,"k":2.03},{"t":1575.9,"k":2.2},{"t":1578.9,"k":2.22},{"t":1582.9,"k":2.11},{"t":1587.6,"k":2.03},{"t":1590.6,"k":2.14},{"t":1583.4,"k":2.28},
{"t":1535.8,"k":2.35},{"t":1539.1,"k":2.38},{"t":1541.9,"k":2.52},{"t":1547.4,"k":2.3},{"t":1552.7,"k":2.44},{"t":1556.4,"k":2.23},{"t":1560,"k":2.37},{"t":1564.6,"k":2.32},{"t":1568.6,"k":2.42},{"t":1571.9,"k":2.27},{"t":1574.6,"k":2.42},{"t":1578.1,"k":2.25},{"t":1581.4,"k":2.44},{"t":1586.9,"k":2.3},{"t":1590.1,"k":2.3},
{"t":1544.2,"k":2.52},{"t":1548.1,"k":2.55},{"t":1563.8,"k":2.52},{"t":1567.6,"k":2.6},{"t":1574.6,"k":2.6},{"t":1578.3,"k":2.56},{"t":1581.4,"k":2.55},{"t":1586.2,"k":2.63},{"t":1590.4,"k":2.66},{"t":1562.9,"k":2.82},{"t":1566.8,"k":2.78},{"t":1570.1,"k":2.72},{"t":1569,"k":2.88},{"t":1564,"k":2.93},{"t":1589.4,"k":2.85},{"t":1584.6,"k":2.72}
],
"trend":[{"t":1501.5,"k":1.35},{"t":1700,"k":0.2}]},
"layer":[
{"data":{"name":"pts"},"mark":{"type":"point","filled":false,"shape":"circle","size":130,"fill":"#c0c0c0","fillOpacity":1,"stroke":"#000080","strokeWidth":1.1,"opacity":1,"clip":false},
"encoding":{
"x":{"field":"t","type":"quantitative","scale":{"domain":[1500,1700],"nice":false,"zero":false},
"axis":{"values":[1500,1550,1600,1650,1700],"format":"d","grid":false,"domain":true,"domainColor":"#444444","domainWidth":1.3,"tickColor":"#444444","tickSize":9,"tickWidth":1,"labelFont":"Liberation Serif","labelFontSize":27,"labelColor":"#222222","labelPadding":17,"labelFlush":false,"labelOverlap":false,"title":"Температура, °С","titleFont":"Liberation Serif","titleFontSize":26,"titleFontWeight":"normal","titleColor":"#222222","titlePadding":22}},
"y":{"field":"k","type":"quantitative","scale":{"domain":[-2,5],"nice":false,"zero":false},
"axis":{"values":[-2,-1,0,1,2,3,4,5],"labelExpr":"''+datum.value","grid":true,"gridColor":"#333333","gridWidth":1.3,"gridOpacity":1,"domain":true,"domainColor":"#444444","domainWidth":1.3,"tickColor":"#444444","tickSize":9,"tickWidth":1,"labelFont":"Liberation Serif","labelFontSize":27,"labelColor":"#222222","labelPadding":14,"labelOverlap":false,"title":"Коэффициент нагрева, °С/(кВт·ч/т)","titleFont":"Liberation Serif","titleFontSize":26,"titleFontWeight":"normal","titleColor":"#222222","titlePadding":11}}}},
{"data":{"name":"trend"},"mark":{"type":"line","color":"#000000","strokeWidth":3,"clip":true},"encoding":{"x":{"field":"t","type":"quantitative"},"y":{"field":"k","type":"quantitative"}}},
{"data":{"values":[{"t":1700,"a":-2},{"t":1700,"a":5}]},"mark":{"type":"line","color":"#808080","strokeWidth":1.3},"encoding":{"x":{"field":"t","type":"quantitative"},"y":{"field":"a","type":"quantitative"}}},
{"data":{"values":[{"t":1500,"a":5},{"t":1700,"a":5}]},"mark":{"type":"line","color":"#a8a8a8","strokeWidth":1.3},"encoding":{"x":{"field":"t","type":"quantitative"},"y":{"field":"a","type":"quantitative"}}},
{"data":{"values":[{"label":"y = -0,0059x + 10,199","t":1698.3,"k":3.78},{"label":"R² = 0,0191","t":1684.7,"k":3.21}]},"mark":{"type":"text","align":"right","baseline":"middle","font":"Liberation Serif","fontSize":27,"color":"#222222"},"encoding":{"x":{"field":"t","type":"quantitative"},"y":{"field":"k","type":"quantitative"},"text":{"field":"label"}}}
]}
